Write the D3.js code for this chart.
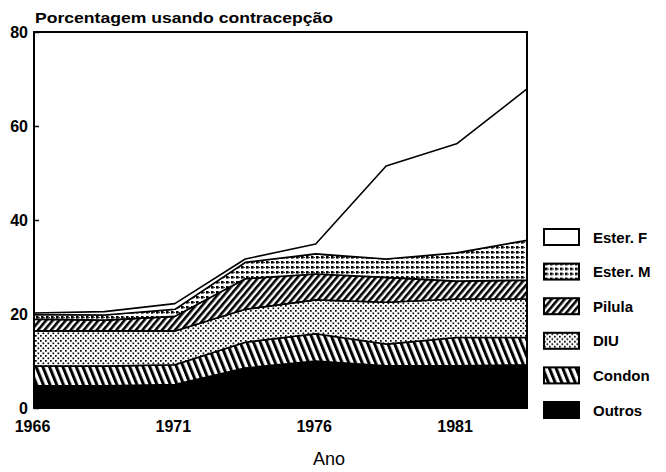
<!DOCTYPE html>
<html><head><meta charset="utf-8">
<script src="https://cdn.jsdelivr.net/npm/d3@7"></script>
<style>body{margin:0;background:#fff}svg{display:block}text{font-family:"Liberation Sans",Arial,sans-serif;fill:#000}</style>
</head><body>
<script>
const years  = [1966, 1968.5, 1971, 1973.5, 1976, 1978.5, 1981, 1983.5];
const outros = [4.7, 4.7, 5.0, 8.5, 10.0, 9.0, 9.0, 9.2];
const condon = [4.2, 4.2, 4.2, 5.5, 5.8, 4.6, 6.0, 5.8];
const diu    = [7.5, 7.5, 7.2, 7.0, 7.2, 8.9, 8.2, 8.2];
const pilula = [2.5, 2.3, 3.1, 6.5, 5.5, 5.3, 3.8, 4.0];
const esterM = [1.0, 1.1, 1.5, 3.5, 4.3, 3.9, 6.0, 8.5];
const esterF = [0.3, 0.7, 1.2, 0.7, 2.1, 19.8, 23.2, 32.2];
const seriesNames = ["Outros", "Condon", "DIU", "Pilula", "Ester. M", "Ester. F"];
const xTicks = [1966, 1971, 1976, 1981];
const yTicks = [0, 20, 40, 60, 80];
const titleText = "Porcentagem usando contracepção";
const xTitle = "Ano";

const W = 666, H = 472;
const svg = d3.select("body").append("svg").attr("width", W).attr("height", H);
const defs = svg.append("defs");

// patterns
function stripePattern(id, period, width, angle) {
  const p = defs.append("pattern").attr("id", id).attr("patternUnits", "userSpaceOnUse")
    .attr("width", period).attr("height", 10).attr("patternTransform", `rotate(${angle})`);
  p.append("rect").attr("width", period).attr("height", 10).attr("fill", "#fff");
  p.append("rect").attr("width", width).attr("height", 10).attr("fill", "#000");
}
stripePattern("pCondon", 6.2, 3.0, -22);
stripePattern("pPilula", 5.0, 2.6, 40);
{
  const p = defs.append("pattern").attr("id", "pDIU").attr("patternUnits", "userSpaceOnUse")
    .attr("width", 5).attr("height", 5);
  p.append("rect").attr("width", 5).attr("height", 5).attr("fill", "#fff");
  p.append("rect").attr("x", 0).attr("y", 0).attr("width", 1.7).attr("height", 1.7).attr("fill", "#000");
  p.append("rect").attr("x", 2.5).attr("y", 2.5).attr("width", 1.7).attr("height", 1.7).attr("fill", "#000");
}
{
  const p = defs.append("pattern").attr("id", "pEsterM").attr("patternUnits", "userSpaceOnUse")
    .attr("width", 5).attr("height", 5);
  p.append("rect").attr("width", 5).attr("height", 5).attr("fill", "#fff");
  p.append("rect").attr("x", 1).attr("y", 1).attr("width", 2.6).attr("height", 2.6).attr("fill", "#000");
  p.append("rect").attr("x", 3.6).attr("y", 2).attr("width", 1.4).attr("height", 0.8).attr("fill", "#000");
}
const fills = {"Outros": "#000", "Condon": "url(#pCondon)", "DIU": "url(#pDIU)",
  "Pilula": "url(#pPilula)", "Ester. M": "url(#pEsterM)", "Ester. F": "#fff"};

const x = d3.scaleLinear().domain([1966, 1983.5]).range([34, 527]);
const y = d3.scaleLinear().domain([0, 80]).range([408, 32]);

const table = years.map((yr, i) => ({year: yr, "Outros": outros[i], "Condon": condon[i], "DIU": diu[i],
  "Pilula": pilula[i], "Ester. M": esterM[i], "Ester. F": esterF[i]}));
const stacked = d3.stack().keys(seriesNames)(table);
const area = d3.area().x(d => x(d.data.year)).y0(d => y(d[0])).y1(d => y(d[1]));

svg.append("g").selectAll("path").data(stacked).join("path")
  .attr("d", area).attr("fill", d => fills[d.key])
  .attr("stroke", "#000").attr("stroke-width", 1.6).attr("stroke-linejoin", "round");

// frame
svg.append("rect").attr("x", x(1966)).attr("y", y(80)).attr("width", x(1983.5) - x(1966))
  .attr("height", y(0) - y(80)).attr("fill", "none").attr("stroke", "#000").attr("stroke-width", 2);

// y axis
const yAxis = d3.axisLeft(y).tickValues(yTicks).tickSize(-5).tickPadding(6).tickFormat(d3.format("d"));
const gy = svg.append("g").attr("transform", `translate(${x(1966)},0)`).call(yAxis);
gy.select(".domain").remove();
gy.selectAll("line").attr("stroke", "#000").attr("stroke-width", 1.5);
gy.selectAll("text").attr("font-size", 16).attr("font-weight", "bold")
  .attr("font-family", "Liberation Sans, Arial, sans-serif");

// x axis
const xAxis = d3.axisBottom(x).tickValues(xTicks).tickSize(0).tickPadding(13).tickFormat(d3.format("d"));
const gx = svg.append("g").attr("transform", `translate(0,${y(0)})`).call(xAxis);
gx.select(".domain").remove();
gx.selectAll("text").attr("font-size", 16).attr("font-weight", "bold")
  .attr("font-family", "Liberation Sans, Arial, sans-serif").attr("dx", -2);

// titles
svg.append("text").attr("x", 35).attr("y", 23).attr("font-size", 15).attr("font-weight", "bold")
  .attr("textLength", 298).attr("lengthAdjust", "spacingAndGlyphs").text(titleText);
svg.append("text").attr("x", 329).attr("y", 465).attr("text-anchor", "middle")
  .attr("font-size", 18).text(xTitle);

// legend
const legendOrder = seriesNames.slice().reverse();
const lg = svg.append("g").selectAll("g").data(legendOrder).join("g")
  .attr("transform", (d, i) => `translate(544,${237 + i * 34.6})`);
lg.append("rect").attr("x", 0).attr("y", -8).attr("width", 35).attr("height", 16)
  .attr("fill", d => fills[d]).attr("stroke", "#000").attr("stroke-width", 2);
lg.append("text").attr("x", 49).attr("y", 5.5).attr("font-size", 15).attr("font-weight", "bold").text(d => d);
</script>
</body></html>
